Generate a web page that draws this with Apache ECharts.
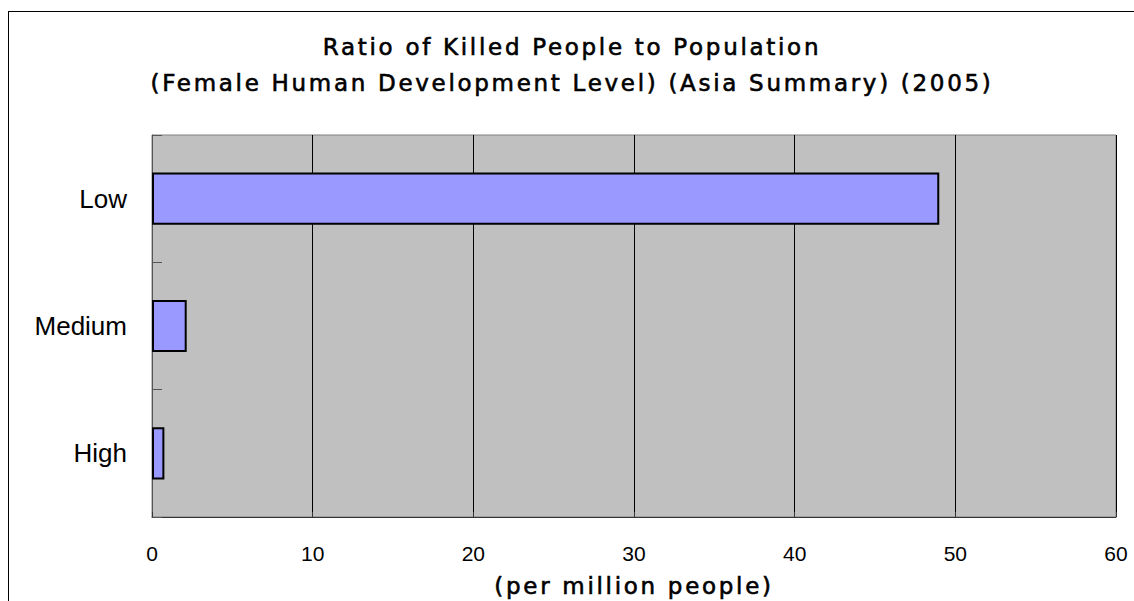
<!DOCTYPE html>
<html><head><meta charset="utf-8">
<script src="https://cdn.jsdelivr.net/npm/echarts@6/dist/echarts.min.js"></script>
<style>html,body{margin:0;padding:0;background:#fff;overflow:hidden}
#frame{position:absolute;left:8px;top:11px;width:1300px;height:800px;border:1px solid #000;box-sizing:border-box}
#c{position:absolute;left:0;top:0;width:1134px;height:601px}</style>
</head><body><div id="frame"></div><div id="c"></div>
<script>
const categories = ['High', 'Medium', 'Low'];
const values = [0.77, 2.16, 49.0];
const titleLines = ['Ratio of Killed People to Population', '(Female Human Development Level) (Asia Summary) (2005)'];
const axisName = '(per million people)';
const chart = echarts.init(document.getElementById('c'), null, {renderer: 'svg'});
const heavy = {fontFamily: 'DejaVu Sans', fontSize: 23, fontWeight: 'normal', color: '#000', textBorderColor: '#000', textBorderWidth: 0.6};
chart.setOption({
  animation: false,
  title: {
    text: titleLines.join('\n'), left: 567, top: 24, textAlign: 'center',
    textStyle: Object.assign({lineHeight: 36}, heavy)
  },
  grid: {left: 152, right: 18, top: 135, bottom: 84, show: true, backgroundColor: '#C0C0C0', borderColor: '#808080', borderWidth: 1, containLabel: false, outerBoundsMode: 'none'},
  xAxis: {
    type: 'value', min: 0, max: 60, interval: 10,
    name: axisName, nameLocation: 'middle', nameGap: 57,
    nameTextStyle: heavy,
    axisLine: {show: true, lineStyle: {color: '#333', width: 1}},
    axisTick: {show: true, inside: true, length: 5, lineStyle: {color: '#333'}},
    axisLabel: {fontFamily: 'Liberation Sans', fontSize: 21, color: '#000', margin: 26},
    splitLine: {show: true, lineStyle: {color: '#000', width: 1}}
  },
  yAxis: {
    type: 'category', data: categories,
    axisLine: {show: true, lineStyle: {color: '#555', width: 1}},
    axisTick: {show: true, inside: true, length: 10, lineStyle: {color: '#555'}},
    axisLabel: {fontFamily: 'Liberation Sans', fontSize: 26, color: '#000', margin: 25},
    splitLine: {show: false}
  },
  series: [{
    type: 'bar', data: values, barCategoryGap: '59%',
    itemStyle: {color: '#9999FF', borderColor: '#000', borderWidth: 2}
  }]
});
function spaceOut() {
  const wide = titleLines.concat([axisName]);
  document.querySelectorAll('#c text').forEach(t => {
    const s = t.textContent;
    if (wide.some(w => s.indexOf(w) >= 0)) t.style.letterSpacing = '2.7px';
  });
}
spaceOut();
chart.on('finished', spaceOut);
</script></body></html>
